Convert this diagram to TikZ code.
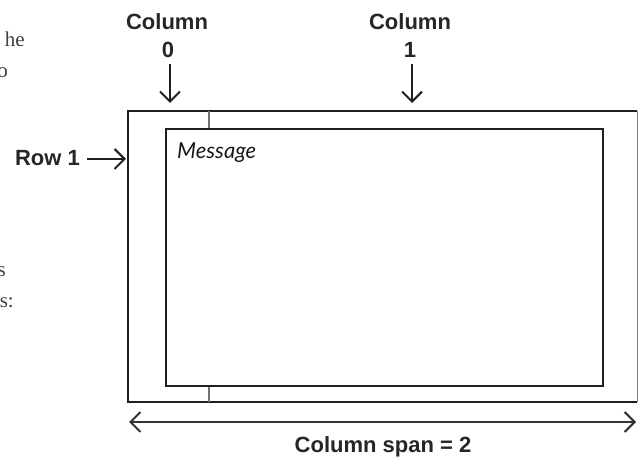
\documentclass[tikz,border=0pt]{standalone}
\usepackage{fontspec}
\setmainfont{Liberation Serif}
\newfontfamily\labfont{Liberation Sans}
\newfontfamily\handfont{Lato}
\usetikzlibrary{arrows.meta}
\begin{document}
\begin{tikzpicture}[x=1pt,y=-1pt,
  lab/.style={font=\labfont\bfseries\fontsize{22}{24}\selectfont, inner sep=0pt, text=black!85},
  frag/.style={font=\fontsize{21}{24}\selectfont, inner sep=0pt, anchor=base east, text=black!75},
  barb/.tip={Straight Barb[length=10pt,width=20pt,line width=2pt]},
  arr/.style={line width=2pt, draw=black!88, -barb},
  frame/.style={line width=2pt, draw=black!88},
  inner/.style={line width=2.6pt, draw=black!88},
  divider/.style={line width=1.6pt, draw=black!55},
]
\useasboundingbox (0,0) rectangle (638,457);
\fill[white] (0,0) rectangle (638,457);

% cut-off body text at left edge
\node[frag] (f1) at (25,47) {he};
\node[frag] (f2) at (8,78) {o};
\node[frag] (f3) at (6,277) {s};
\node[frag] (f4) at (14,308) {s:};

% outer grid area
\coordinate (otl) at (128,111);
\coordinate (otr) at (637,111);
\coordinate (obl) at (128,402);
\coordinate (obr) at (637,402);
\draw[frame] (otr) -- (otl) -- (obl) -- (obr);
\draw[line width=1pt, draw=black!50] (otr) -- (obr);

% column divider
\draw[divider] (209,111) -- (209,129);
\draw[divider] (209,386) -- (209,402);

% inner message box
\draw[inner] (166,129) rectangle (603,386);
\node[font=\handfont\itshape\fontsize{22}{24}\selectfont, inner sep=0pt, anchor=base west, text=black!90] (msg) at (177,159) {Message};

% column labels
\node[lab, anchor=base] (c0) at (167,30) {Column};
\node[lab, anchor=base] (c0n) at (168,58) {0};
\node[lab, anchor=base] (c1) at (410,30) {Column};
\node[lab, anchor=base] (c1n) at (410,58) {1};
\coordinate (c0t) at (170,64);
\coordinate (c0h) at (170,103);
\coordinate (c1t) at (412,64);
\coordinate (c1h) at (412,103);
\draw[arr] (c0t) -- (c0h);
\draw[arr] (c1t) -- (c1h);

% row label
\node[lab, anchor=base east] (r1) at (80,166) {Row 1};
\coordinate (r1t) at (87,159);
\coordinate (r1h) at (126,159);
\draw[arr] (r1t) -- (r1h);

% column span
\coordinate (sl) at (129,422);
\coordinate (sr) at (636,422);
\draw[line width=2pt, draw=black!80, barb-barb] (sl) -- (sr);
\node[lab, anchor=base] (span) at (383,452) {Column span = 2};
\end{tikzpicture}
\end{document}
